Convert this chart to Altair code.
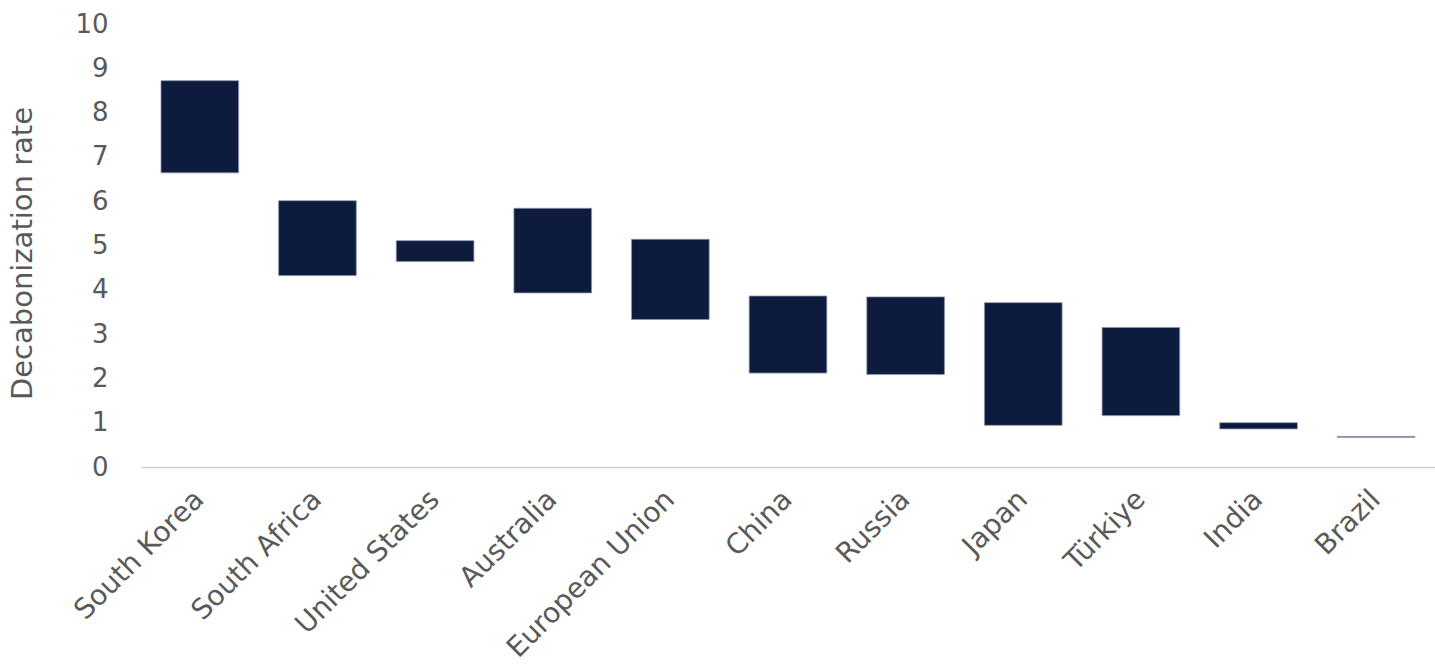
import altair as alt
import pandas as pd

countries = ["South Korea", "South Africa", "United States", "Australia", "European Union",
             "China", "Russia", "Japan", "Türkiye", "India", "Brazil"]
low = [6.64, 4.32, 4.64, 3.93, 3.33, 2.12, 2.09, 0.94, 1.16, 0.86, 0.67]
high = [8.72, 6.01, 5.11, 5.84, 5.14, 3.86, 3.84, 3.71, 3.15, 1.00, 0.69]
y_ticks = list(range(0, 11))

df = pd.DataFrame({"country": countries, "low": low, "high": high})

FONT = "DejaVu Sans"
GREY = "#595959"

chart = alt.Chart(df).mark_bar(
    color="#0d1b3e", stroke="#8a93a8", strokeWidth=0.8
).encode(
    x=alt.X("country:N", sort=countries, title=None,
            scale=alt.Scale(paddingInner=0.34, paddingOuter=0.17),
            axis=alt.Axis(labelAngle=-45, labelAlign="right", labelBaseline="middle",
                          labelFont=FONT, labelFontSize=28, labelColor=GREY,
                          labelPadding=28, labelLimit=400, ticks=False, domainColor="#d0d0d0",
                          domainWidth=1.5, grid=False)),
    y=alt.Y("low:Q", title="Decabonization rate",
            scale=alt.Scale(domain=[0, 10], nice=False),
            axis=alt.Axis(values=y_ticks, labelFont=FONT, labelFontSize=26, labelColor=GREY,
                          ticks=False, domain=False, grid=False, labelPadding=33,
                          titleFont=FONT, titleFontSize=29, titleColor=GREY,
                          titleFontWeight="normal", titlePadding=37, titleY=229)),
    y2="high:Q",
).properties(
    width=1294, height=443,
    autosize=alt.AutoSizeParams(type="none"),
    padding={"left": 141, "top": 24, "right": 0, "bottom": 197},
).configure_view(stroke=None)

chart.save("out.html", embed_options={"renderer": "svg", "actions": False})
